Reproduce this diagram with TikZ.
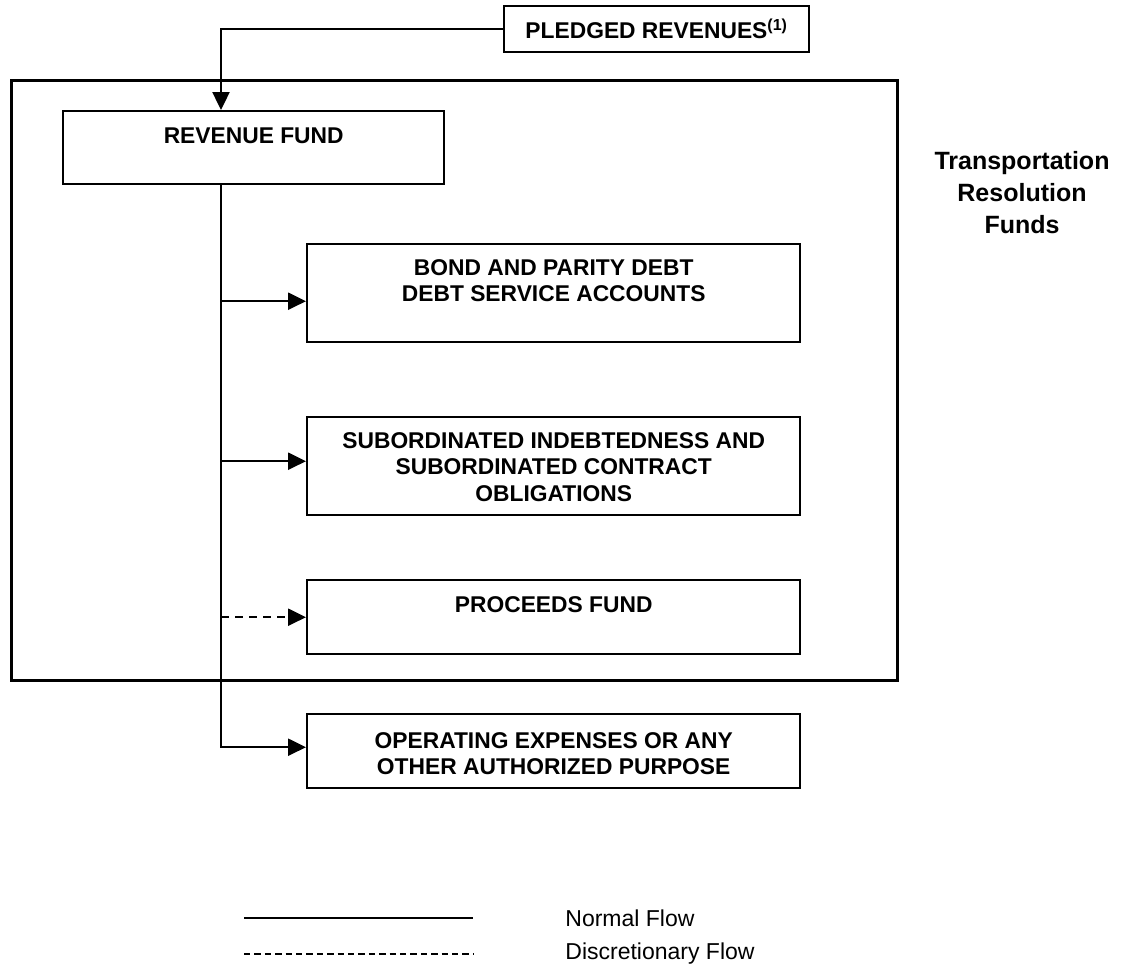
\documentclass[tikz,border=0pt]{standalone}
\usepackage{fontspec}
\setmainfont{Liberation Sans}
\usetikzlibrary{positioning,arrows.meta}

\begin{document}
\begin{tikzpicture}[x=0.5pt,y=-0.5pt,node distance=46pt,
    fundbox/.style={draw,line width=1.2pt,anchor=north west,inner sep=0pt},
    fundtxt/.style={anchor=north,align=center,inner sep=0pt,font=\fontsize{11.4}{13.25}\selectfont\bfseries},
    legendtxt/.style={inner sep=0pt,font=\fontsize{11.5}{14}\selectfont},
    flow/.style={line width=1.2pt,-{Triangle[length=9pt,width=8.5pt]}},
    optflow/.style={flow,dash pattern=on 4pt off 3pt}]
  \useasboundingbox (0,0) rectangle (1128,966);

  \node[fundbox,line width=1.4pt,minimum width=443pt,minimum height=300pt] (trf) at (10,79) {};
  \node[align=center,inner sep=0pt,font=\fontsize{12.5}{16}\selectfont\bfseries,anchor=north] (trflabel) at (1022,151) {Transportation\\Resolution\\Funds};

  \node[fundbox,minimum width=152.5pt,minimum height=23pt,font=\fontsize{11.4}{13.25}\selectfont\bfseries] (pledged) at (503,5) {PLEDGED REVENUES\textsuperscript{(1)}};

  \node[fundbox,minimum width=190.5pt,minimum height=36.5pt] (revenue) at (62,110) {};
  \node[fundtxt] (revenuetxt) at ([yshift=-8.5pt]revenue.north) {REVENUE FUND};

  \node[fundbox,minimum width=246.5pt,minimum height=49pt] (bond) at (306,243) {};
  \node[fundtxt] (bondtxt) at ([yshift=-8pt]bond.north) {BOND AND PARITY DEBT\\DEBT SERVICE ACCOUNTS};

  \node[fundbox,minimum width=246.5pt,minimum height=49pt] (subord) at (306,416) {};
  \node[fundtxt] (subordtxt) at ([yshift=-8pt]subord.north) {SUBORDINATED INDEBTEDNESS AND\\SUBORDINATED CONTRACT\\OBLIGATIONS};

  \node[fundbox,minimum width=246.5pt,minimum height=37pt] (proceeds) at (306,579) {};
  \node[fundtxt] (proceedstxt) at ([yshift=-8.5pt]proceeds.north) {PROCEEDS FUND};

  \node[fundbox,minimum width=246.5pt,minimum height=37pt] (operating) at (306,713) {};
  \node[fundtxt] (operatingtxt) at ([yshift=-9.5pt]operating.north) {OPERATING EXPENSES OR ANY\\OTHER AUTHORIZED PURPOSE};

  % revenue flow
  \coordinate (tap) at (221,183);
  \coordinate (bondin) at ([yshift=-4pt]bond.west);
  \coordinate (subordin) at ([yshift=2.5pt]subord.west);
  \coordinate (operatingin) at ([yshift=2pt]operating.west);
  \draw[flow] (pledged.west) -| (tap |- revenue.north);
  \draw[flow] (tap) |- (operatingin);
  \draw[flow] (tap |- bondin) -- (bondin);
  \draw[flow] (tap |- subordin) -- (subordin);
  \draw[optflow] (tap |- proceeds.west) -- (proceeds.west);

  % legend
  \coordinate (solidL) at (244,918);
  \coordinate (solidR) at (473,918);
  \coordinate (dashL) at (244,954);
  \coordinate (dashR) at (473,954);
  \draw[line width=1.2pt] (solidL) -- (solidR);
  \draw[line width=0.9pt,dash pattern=on 3.2pt off 2pt] (dashL) -- (dashR);
  \node[legendtxt,right=of solidR] (normal) {Normal Flow};
  \node[legendtxt,right=of dashR] (discr) {Discretionary Flow};
\end{tikzpicture}
\end{document}
